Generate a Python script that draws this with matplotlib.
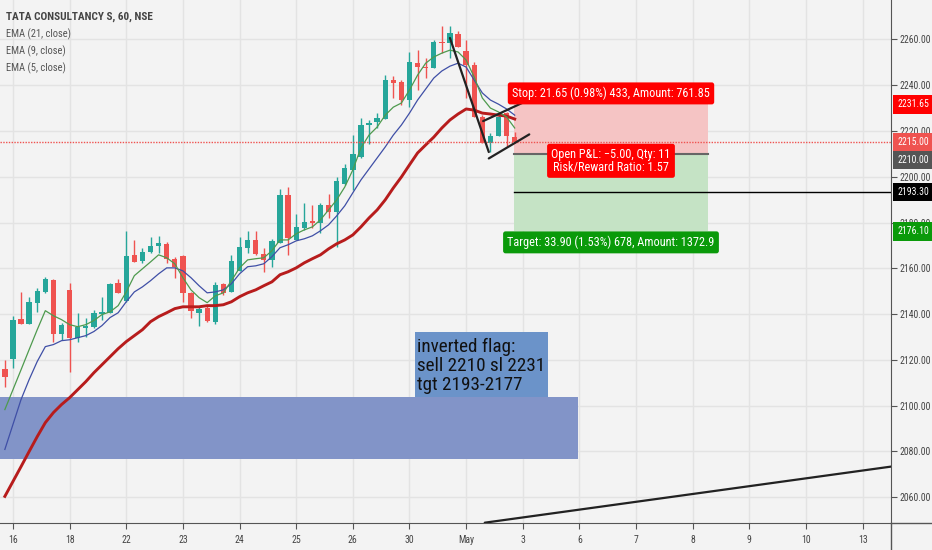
import numpy as np
import matplotlib
matplotlib.use('Agg')
import matplotlib.pyplot as plt
from matplotlib import font_manager
from matplotlib.patches import Rectangle
from matplotlib.lines import Line2D

# TCS hourly bars (NSE), last bar of 15 Apr up to 2 May
opens = [2116.1, 2120.5, 2138.0, 2135.9, 2145.0, 2149.7, 2155.0, 2131.5, 2150.6, 2129.7,
         2134.1, 2134.5, 2140.2, 2140.6, 2153.7, 2145.9, 2165.9, 2163.3, 2167.2, 2169.9,
         2170.7, 2164.2, 2165.5, 2149.3, 2140.6, 2142.8, 2136.7, 2153.3, 2149.7, 2159.0,
         2168.9, 2172.4, 2166.4, 2163.7, 2171.1, 2192.0, 2172.4, 2177.6, 2180.7, 2179.8,
         2187.7, 2184.6, 2196.9, 2203.0, 2208.6, 2222.6, 2223.9, 2225.2, 2242.2, 2241.3,
         2233.5, 2249.6, 2247.9, 2247.5, 2258.8, 2258.4, 2262.3, 2254.9, 2248.8, 2226.1,
         2214.7, 2217.8, 2227.8, 2217.3]
highs = [2120.1, 2139.3, 2149.7, 2147.6, 2151.5, 2156.3, 2155.4, 2136.3, 2153.7, 2140.6,
         2138.5, 2141.9, 2147.6, 2153.7, 2155.4, 2176.4, 2172.4, 2168.9, 2173.7, 2174.2,
         2171.6, 2165.0, 2165.9, 2149.7, 2143.7, 2143.7, 2154.1, 2153.7, 2165.9, 2173.7,
         2176.4, 2176.4, 2168.9, 2172.8, 2194.6, 2195.5, 2183.7, 2188.6, 2187.7, 2188.6,
         2192.5, 2199.9, 2205.6, 2218.2, 2225.6, 2224.8, 2227.8, 2244.4, 2244.0, 2242.2,
         2254.5, 2255.3, 2251.9, 2259.7, 2265.8, 2265.8, 2263.6, 2259.7, 2250.1, 2226.9,
         2219.1, 2226.9, 2228.3, 2219.5]
lows = [2108.3, 2116.6, 2135.5, 2135.5, 2141.0, 2149.3, 2128.0, 2128.8, 2114.9, 2128.0,
        2130.1, 2134.1, 2137.6, 2140.6, 2149.3, 2145.4, 2162.8, 2162.4, 2166.8, 2166.8,
        2162.4, 2155.9, 2145.4, 2138.5, 2135.0, 2136.7, 2135.9, 2148.5, 2149.7, 2159.0,
        2166.8, 2165.9, 2158.5, 2160.4, 2171.1, 2165.9, 2172.4, 2176.8, 2177.6, 2175.5,
        2181.9, 2169.4, 2196.4, 2194.2, 2208.2, 2214.3, 2221.3, 2225.2, 2234.4, 2231.3,
        2230.4, 2237.9, 2243.1, 2247.5, 2254.0, 2251.9, 2256.6, 2234.4, 2226.1, 2214.7,
        2210.8, 2217.8, 2213.4, 2214.7]
closes = [2112.7, 2137.6, 2135.9, 2145.4, 2150.2, 2155.4, 2131.5, 2135.4, 2129.7, 2134.5,
          2135.0, 2140.6, 2141.0, 2153.3, 2149.3, 2165.5, 2162.8, 2167.2, 2169.9, 2171.2,
          2164.2, 2160.4, 2149.3, 2141.5, 2142.4, 2137.2, 2152.8, 2149.3, 2163.3, 2169.4,
          2172.4, 2166.4, 2163.7, 2172.0, 2192.0, 2173.3, 2178.0, 2180.3, 2179.8, 2187.7,
          2184.6, 2198.2, 2203.8, 2210.0, 2222.6, 2223.5, 2225.6, 2242.2, 2240.9, 2233.5,
          2250.1, 2247.9, 2247.5, 2258.8, 2258.4, 2262.8, 2256.6, 2248.8, 2226.1, 2214.7,
          2217.8, 2226.1, 2217.8, 2215.0]

# indicator values
ema21 = [2060.4, 2066.9, 2073.4, 2080.0, 2086.5, 2092.6, 2097.0, 2100.5, 2103.5, 2107.0,
         2110.5, 2114.4, 2117.9, 2121.4, 2124.9, 2128.0, 2130.6, 2133.2, 2136.7, 2138.9,
         2140.6, 2142.4, 2143.2, 2143.2, 2143.2, 2143.7, 2143.7, 2144.1, 2145.4, 2147.6,
         2149.3, 2150.6, 2152.4, 2154.1, 2157.2, 2158.5, 2160.2, 2162.4, 2164.2, 2165.9,
         2168.5, 2170.7, 2172.4, 2174.6, 2178.1, 2182.0, 2185.5, 2189.9, 2195.1, 2199.9,
         2205.2, 2210.4, 2213.9, 2217.3, 2221.3, 2224.8, 2227.4, 2229.6, 2229.1, 2227.8,
         2227.4, 2226.9, 2226.5, 2225.2]
ema9 = [2080.9, 2091.8, 2102.7, 2111.4, 2119.3, 2125.8, 2126.7, 2128.4, 2128.8, 2129.7,
        2130.6, 2132.4, 2135.0, 2138.5, 2140.6, 2145.4, 2149.7, 2151.9, 2154.6, 2157.6,
        2160.2, 2160.2, 2158.9, 2155.9, 2152.4, 2149.3, 2149.7, 2150.6, 2153.3, 2157.6,
        2160.7, 2161.1, 2162.0, 2165.1, 2169.0, 2170.3, 2172.0, 2172.9, 2174.2, 2176.4,
        2179.0, 2182.9, 2187.3, 2193.0, 2198.6, 2203.4, 2208.2, 2213.0, 2218.2, 2222.6,
        2227.8, 2233.5, 2238.3, 2243.1, 2246.2, 2248.3, 2249.6, 2247.9, 2242.2, 2236.6,
        2233.5, 2231.7, 2229.6, 2226.9]
ema5 = [2098.3, 2107.0, 2115.7, 2124.5, 2133.2, 2141.5, 2139.3, 2137.6, 2135.4, 2134.5,
        2135.4, 2137.2, 2139.8, 2141.0, 2143.7, 2149.7, 2156.8, 2159.8, 2162.8, 2165.9,
        2164.6, 2162.0, 2155.9, 2150.6, 2147.2, 2145.0, 2148.0, 2149.3, 2154.6, 2160.2,
        2163.7, 2164.2, 2164.6, 2167.7, 2172.4, 2172.4, 2175.1, 2176.8, 2178.1, 2181.2,
        2185.5, 2189.9, 2195.5, 2203.0, 2212.6, 2218.2, 2221.7, 2226.9, 2230.4, 2232.2,
        2237.9, 2244.4, 2249.6, 2252.3, 2254.0, 2255.3, 2254.5, 2251.0, 2243.5, 2234.4,
        2230.0, 2228.3, 2226.1, 2221.3]

day_labels = ['16', '18', '22', '23', '24', '25', '26', '30', 'May',
              '3', '6', '7', '8', '9', '10', '13']
bars_per_day = 7
price_ticks = [2060, 2080, 2100, 2120, 2140, 2160, 2180, 2200, 2220, 2240, 2260]

# short position tool
entry, stop, target = 2210.00, 2231.65, 2176.10
pos_start, pos_end = 62.9, 86.9
last_price = 2215.00
level = 2193.30

# drawings (bar index, price)
flag_pole = ([55.0, 59.8], [2260.6, 2210.8])
flag_top = ([59.1, 63.9], [2224.3, 2232.2])
flag_bottom = ([59.8, 64.8], [2208.0, 2218.5])
support_line = ([59.3, 109.5], [2048.9, 2073.4])
zone = (-2, 70.8, 2076.9, 2103.9)
note_box = (50.7, 67.1, 2103.9, 2132.2)
note_text = 'inverted flag:\nsell 2210 sl 2231\ntgt 2193-2177'

# pick a narrow face if one is around, TradingView text is condensed
stretch = 'normal'
ui = 'DejaVu Sans'
names = {f.name for f in font_manager.fontManager.ttflist}
for cand in ['Liberation Sans Narrow', 'Roboto Condensed', 'Open Sans Condensed',
             'Noto Sans Condensed', 'Arial Narrow']:
    if cand in names:
        ui = cand
        break
else:
    cond = [f.name for f in font_manager.fontManager.ttflist
            if f.stretch in ('condensed', 'semi-condensed') and f.name in
            ('DejaVu Sans', 'Noto Sans', 'Open Sans', 'Roboto')]
    if cond:
        ui, stretch = cond[0], 'condensed'
    elif 'Roboto' in names:
        ui = 'Roboto'
plt.rcParams['font.family'] = [ui, 'DejaVu Sans']
plt.rcParams['font.stretch'] = stretch

bg = '#f3f3f3'
up, down = '#26a69a', '#ef5350'

fig = plt.figure(figsize=(9.32, 5.5), dpi=100, facecolor=bg)
ax = fig.add_axes([0, 27.3 / 550, 891 / 932, 522.7 / 550], facecolor=bg)
renderer = fig.canvas.get_renderer()


def fit(txt, width_px, **kw):
    # font size that gives the text the width it has in the screenshot
    t = fig.text(0, 0, txt, fontsize=10, **kw)
    w = t.get_window_extent(renderer).width
    t.remove()
    return 10 * width_px / w


fs_tick = min(8.5, fit('2260.00', 31))
fs_title = min(10.5, fit('TATA CONSULTANCY S, 60, NSE', 147, fontweight='bold'))
fs_ema = min(10, fit('EMA (21, close)', 65))
fs_pos = min(10, fit('Stop: 21.65 (0.98%) 433, Amount: 761.85', 196))
fs_note = min(15, fit('sell 2210 sl 2231', 127))

x = np.arange(len(opens))
o = np.array(opens)
c = np.array(closes)
col = np.where(c >= o, up, down)

ax.vlines(x, lows, highs, color=col, lw=1, zorder=3)
ax.bar(x, np.maximum(np.abs(c - o), 0.5), bottom=np.minimum(o, c), width=0.66,
       color=col, zorder=3)

ax.plot(x, ema21, color='#b71c1c', lw=2.1, zorder=4)
ax.plot(x, ema9, color='#3f4fa6', lw=0.9, zorder=4)
ax.plot(x, ema5, color='#4e9a4e', lw=0.9, zorder=4)

# demand zone + note
ax.add_patch(Rectangle((zone[0], zone[2]), zone[1] - zone[0], zone[3] - zone[2],
                       facecolor='#8294c8', edgecolor='none', zorder=2))
ax.add_patch(Rectangle((note_box[0], note_box[2]), note_box[1] - note_box[0],
                       note_box[3] - note_box[2], facecolor='#6b93c9',
                       edgecolor='none', zorder=5))
ax.annotate(note_text, (note_box[0], note_box[3]), xytext=(1.5, -4),
            textcoords='offset points', fontsize=fs_note, color='#111',
            va='top', ha='left', linespacing=1.08, zorder=6)

# position tool
ax.add_patch(Rectangle((pos_start, entry), pos_end - pos_start, stop - entry,
                       facecolor='#f5c4c4', edgecolor='none', zorder=2))
ax.add_patch(Rectangle((pos_start, target), pos_end - pos_start, entry - target,
                       facecolor='#c5e3c5', edgecolor='none', zorder=2))
ax.plot([pos_start, pos_end], [entry, entry], color='#666', lw=1.5, zorder=3)
mid = (pos_start + pos_end) / 2
box = dict(boxstyle='round,pad=0.35,rounding_size=0.2', ec='none')
ax.annotate('Stop: 21.65 (0.98%) 433, Amount: 761.85', (mid, stop), xytext=(0, 3),
            textcoords='offset points', ha='center', va='bottom', fontsize=fs_pos,
            color='white', zorder=7, bbox=dict(box, fc='#ff0000'))
ax.annotate('Open P&L: \u22125.00, Qty: 11\nRisk/Reward Ratio: 1.57', (mid, entry),
            xytext=(0, -5), textcoords='offset points', ha='center', va='center',
            fontsize=fs_pos, color='white', linespacing=0.95, zorder=7,
            bbox=dict(box, fc='#ff0000'))
ax.annotate('Target: 33.90 (1.53%) 678, Amount: 1372.9', (mid, target), xytext=(0, -3),
            textcoords='offset points', ha='center', va='top', fontsize=fs_pos,
            color='white', zorder=7, bbox=dict(box, fc='#0a9a0a'))

ax.plot([pos_start, 200], [level, level], color='black', lw=1, zorder=4)
ax.axhline(last_price, color='#ef5350', lw=1, ls=(0, (1, 1)), zorder=6)

# trend lines
for xs, ys in (flag_pole, flag_top, flag_bottom, support_line):
    ax.plot(xs, ys, color='#222', lw=1.6, zorder=6, solid_capstyle='round')

# axes
ax.set_xlim(-0.6, 109.5)
ax.set_ylim(2048.9, 2277.2)
ax.set_xticks([1 + bars_per_day * k for k in range(len(day_labels))])
ax.set_xticklabels(day_labels)
ax.set_yticks(price_ticks)
ax.set_yticklabels([f'{v:.2f}' for v in price_ticks])
ax.yaxis.tick_right()
ax.tick_params(axis='both', colors='#555', labelcolor='#444', labelsize=fs_tick, length=4)
ax.tick_params(axis='y', pad=2)
ax.tick_params(axis='x', pad=5)
ax.grid(True, color='#e3e3e3', lw=1)
ax.set_axisbelow(True)
for s in ('top', 'left'):
    ax.spines[s].set_visible(False)
for s in ('right', 'bottom'):
    ax.spines[s].set_color('#555')
fig.add_artist(Line2D([891 / 932, 891 / 932], [0, 27.3 / 550], color='#555', lw=1))
fig.add_artist(Line2D([891 / 932, 1], [27.3 / 550, 27.3 / 550], color='#555', lw=1))

# price labels on the scale
tags = [(stop, '2231.65', '#ff0000', 0), (last_price, '2215.00', '#ef5350', 0),
        (entry, '2210.00', '#555555', -4.5), (level, '2193.30', '#000000', 0),
        (target, '2176.10', '#0a9a0a', 0)]
for val, txt, fc, dy in tags:
    ax.annotate(txt, (1, val), xycoords=('axes fraction', 'data'), xytext=(4.5, dy),
                textcoords='offset points', ha='left', va='center', fontsize=fs_tick,
                color='white', annotation_clip=False, zorder=8,
                bbox=dict(boxstyle='square,pad=0.45', fc=fc, ec='none'))

# legend block
ax.text(0.0067, 0.967, 'TATA CONSULTANCY S, 60, NSE', transform=ax.transAxes,
        fontsize=fs_title, fontweight='bold', color='#444', va='center')
for i, name in enumerate(['EMA (21, close)', 'EMA (9, close)', 'EMA (5, close)']):
    ax.text(0.0067, 0.935 - 0.0325 * i, name, transform=ax.transAxes,
            fontsize=fs_ema, color='#555', va='center')

fig.savefig('out.png', dpi=100, facecolor=bg)
